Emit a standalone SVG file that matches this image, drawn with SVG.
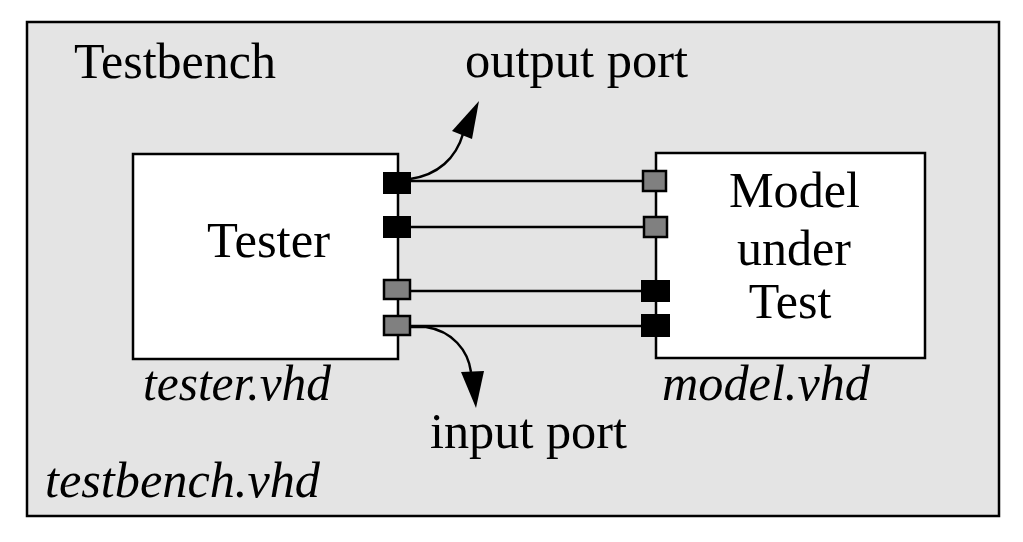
<svg xmlns="http://www.w3.org/2000/svg" width="1023" height="542" viewBox="0 0 1023 542">
<style>
.t{font-family:"Liberation Serif","Times New Roman",serif;font-size:50px;fill:#000}
.i{font-style:italic}
.box{fill:#fff;stroke:#000;stroke-width:2.5}
.pb{fill:#000;stroke:#000;stroke-width:2}
.pg{fill:#808080;stroke:#000;stroke-width:2.5}
.w{stroke:#000;stroke-width:2.5;fill:none}
</style>
<rect width="1023" height="542" fill="#fff"/>
<g id="testbench">
<rect x="27" y="22" width="972" height="494" fill="#e4e4e4" stroke="#000" stroke-width="2.5"/>
<text class="t" x="74" y="78" textLength="202" lengthAdjust="spacingAndGlyphs">Testbench</text>
<text class="t i" x="45" y="497" textLength="275" lengthAdjust="spacingAndGlyphs">testbench.vhd</text>
</g>
<g id="tester">
<rect class="box" x="133" y="154" width="265" height="205"/>
<text class="t" x="207" y="257" textLength="123" lengthAdjust="spacingAndGlyphs">Tester</text>
<text class="t i" x="143" y="400" textLength="188" lengthAdjust="spacingAndGlyphs">tester.vhd</text>
<rect class="pb" x="384" y="173" width="26" height="20"/>
<rect class="pb" x="384" y="217" width="26" height="20"/>
<rect class="pg" x="384" y="280" width="26" height="19"/>
<rect class="pg" x="384" y="316" width="26" height="19"/>
</g>
<g id="model">
<rect class="box" x="656" y="153" width="269" height="205"/>
<text class="t" x="729" y="207" textLength="131" lengthAdjust="spacingAndGlyphs">Model</text>
<text class="t" x="794" y="265" text-anchor="middle">under</text>
<text class="t" x="790" y="318" text-anchor="middle">Test</text>
<text class="t i" x="662" y="400" textLength="208" lengthAdjust="spacingAndGlyphs">model.vhd</text>
<rect class="pg" x="643" y="171" width="23" height="20"/>
<rect class="pg" x="644" y="217" width="23" height="20"/>
<rect class="pb" x="642" y="281" width="27" height="20"/>
<rect class="pb" x="642" y="315" width="27" height="21"/>
</g>
<g id="connectors">
<line class="w" x1="410" y1="181" x2="643" y2="181"/>
<line class="w" x1="410" y1="227" x2="644" y2="227"/>
<line class="w" x1="410" y1="291" x2="642" y2="291"/>
<line class="w" x1="410" y1="326" x2="642" y2="326"/>
<path class="w" d="M410,179 C438,175 456,158 463,134"/>
<path d="M452,131 L479,101 L472,139 Z" fill="#000"/>
<path class="w" d="M410,327 L426,327 C452,331 468,350 471,372"/>
<path d="M461,372 L484,371 L476,408 Z" fill="#000"/>
</g>
<g id="labels">
<text class="t" x="465" y="77" textLength="223" lengthAdjust="spacingAndGlyphs">output port</text>
<text class="t" x="430" y="448" textLength="197" lengthAdjust="spacingAndGlyphs">input port</text>
</g>
</svg>
